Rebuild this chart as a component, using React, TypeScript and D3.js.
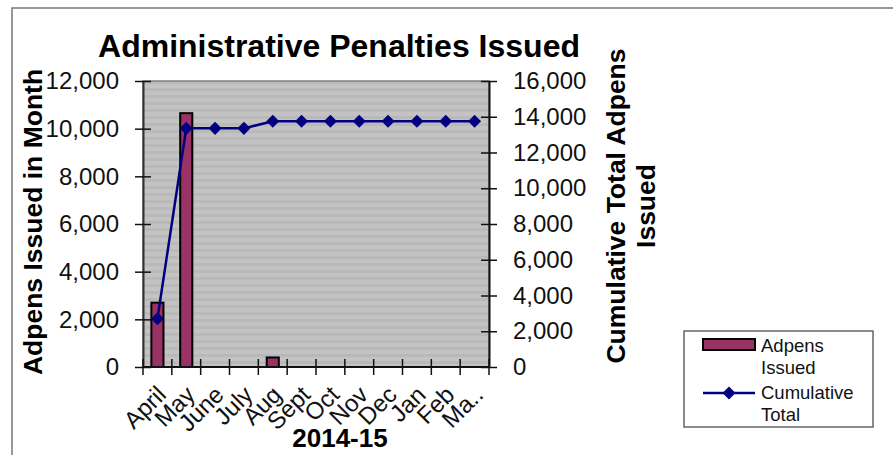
import React, { useEffect, useRef } from 'react';
import * as d3 from 'd3';

const months = ['April', 'May', 'June', 'July', 'Aug', 'Sept', 'Oct', 'Nov', 'Dec', 'Jan', 'Feb', 'Ma..'];
const adpensIssued = [2700, 10650, 0, 0, 400, 0, 0, 0, 0, 0, 0, 0];
const cumulativeTotal = [2700, 13350, 13350, 13350, 13750, 13750, 13750, 13750, 13750, 13750, 13750, 13750];
const leftTicks = [0, 2000, 4000, 6000, 8000, 10000, 12000];
const rightTicks = [0, 2000, 4000, 6000, 8000, 10000, 12000, 14000, 16000];
const legendLabels = [['Adpens', 'Issued'], ['Cumulative', 'Total']];

const width = 893;
const height = 455;
const plot = { left: 143, right: 489, top: 81, bottom: 367 };
const font = '"Liberation Sans", Arial, Helvetica, sans-serif';
const barColor = '#993366';
const lineColor = '#000080';

export default function App() {
  const ref = useRef<SVGSVGElement>(null);

  useEffect(() => {
    document.body.style.margin = '0';
    const svg = d3.select(ref.current);
    svg.selectAll('*').remove();

    const x = d3.scaleBand<string>().domain(months).range([plot.left, plot.right]);
    const yLeft = d3.scaleLinear().domain([0, 12000]).range([plot.bottom, plot.top]);
    const yRight = d3.scaleLinear().domain([0, 16000]).range([plot.bottom, plot.top]);

    // striped grey plot background
    const pat = svg.append('defs').append('pattern')
      .attr('id', 'stripes')
      .attr('patternUnits', 'userSpaceOnUse')
      .attr('width', 8).attr('height', 7);
    pat.append('rect').attr('width', 8).attr('height', 7).attr('fill', '#c3c3c3');
    pat.append('rect').attr('y', 4).attr('width', 8).attr('height', 3).attr('fill', '#b9b9b9');

    svg.append('rect')
      .attr('x', 12).attr('y', 8)
      .attr('width', width + 10).attr('height', height + 10)
      .attr('fill', 'white').attr('stroke', '#777').attr('stroke-width', 1.5);

    svg.append('rect')
      .attr('x', plot.left).attr('y', plot.top)
      .attr('width', plot.right - plot.left).attr('height', plot.bottom - plot.top)
      .attr('fill', 'url(#stripes)').attr('stroke', '#808080').attr('stroke-width', 1.5);

    // bars
    const barW = x.bandwidth() * 0.42;
    svg.append('g').selectAll('rect')
      .data(adpensIssued.map((v, i) => ({ m: months[i], v })).filter(d => d.v > 0))
      .enter().append('rect')
      .attr('x', d => x(d.m)! + (x.bandwidth() - barW) / 2)
      .attr('y', d => yLeft(d.v))
      .attr('width', barW)
      .attr('height', d => plot.bottom - yLeft(d.v))
      .attr('fill', barColor).attr('stroke', 'black').attr('stroke-width', 2);

    // left axis
    const gl = svg.append('g')
      .attr('transform', `translate(${plot.left},0)`)
      .call(d3.axisLeft(yLeft).tickValues(leftTicks).tickFormat(d3.format(',')).tickSize(8).tickSizeOuter(0).tickPadding(16));
    gl.selectAll('.tick line').attr('x1', 8).attr('stroke', '#111').attr('stroke-width', 1.5);
    gl.select('.domain').attr('stroke', '#333').attr('stroke-width', 2);
    gl.selectAll('text').attr('font-size', 24).attr('font-family', font).attr('fill', '#111');

    // right axis
    const gr = svg.append('g')
      .attr('transform', `translate(${plot.right},0)`)
      .call(d3.axisRight(yRight).tickValues(rightTicks).tickFormat(d3.format(',')).tickSize(8).tickSizeOuter(0).tickPadding(16));
    gr.selectAll('.tick line').attr('x1', -8).attr('stroke', '#111').attr('stroke-width', 1.5);
    gr.select('.domain').attr('stroke', '#111').attr('stroke-width', 2);
    gr.selectAll('text').attr('font-size', 24).attr('font-family', font).attr('fill', '#111');

    // bottom axis
    const bounds = months.map(m => x(m)!).concat([plot.right]);
    svg.append('line')
      .attr('x1', plot.left).attr('x2', plot.right)
      .attr('y1', plot.bottom).attr('y2', plot.bottom)
      .attr('stroke', '#111').attr('stroke-width', 2);
    svg.append('g').selectAll('line').data(bounds).enter().append('line')
      .attr('x1', d => d).attr('x2', d => d)
      .attr('y1', plot.bottom - 8).attr('y2', plot.bottom + 8)
      .attr('stroke', '#111').attr('stroke-width', 1.5);
    svg.append('g').selectAll('text').data(months).enter().append('text')
      .attr('transform', d => `translate(${x(d)! + x.bandwidth() / 2 - 2},384) rotate(-45)`)
      .attr('text-anchor', 'end')
      .attr('dy', '0.72em')
      .attr('font-size', 24).attr('font-family', font).attr('fill', '#111')
      .text(d => d);

    // cumulative line
    const line = d3.line<number>()
      .x((_, i) => x(months[i])! + x.bandwidth() / 2)
      .y(d => yRight(d));
    svg.append('path')
      .datum(cumulativeTotal)
      .attr('d', line)
      .attr('fill', 'none').attr('stroke', lineColor).attr('stroke-width', 2.5);
    const diamond = d3.symbol(d3.symbolSquare, 85);
    svg.append('g').selectAll('path').data(cumulativeTotal).enter().append('path')
      .attr('d', diamond)
      .attr('transform', (d, i) => `translate(${x(months[i])! + x.bandwidth() / 2},${yRight(d)}) rotate(45)`)
      .attr('fill', lineColor);

    // titles
    svg.append('text')
      .attr('x', 339).attr('y', 57)
      .attr('text-anchor', 'middle')
      .attr('font-size', 32).attr('font-weight', 'bold').attr('font-family', font)
      .text('Administrative Penalties Issued');
    svg.append('text')
      .attr('transform', 'translate(42,222) rotate(-90)')
      .attr('text-anchor', 'middle')
      .attr('font-size', 26.5).attr('font-weight', 'bold').attr('font-family', font)
      .text('Adpens Issued in Month');
    const rt = svg.append('text')
      .attr('transform', 'translate(625,206) rotate(-90)')
      .attr('text-anchor', 'middle')
      .attr('font-size', 26.5).attr('font-weight', 'bold').attr('font-family', font);
    rt.append('tspan').attr('x', 0).attr('y', 0).text('Cumulative Total Adpens');
    rt.append('tspan').attr('x', 0).attr('y', 30).text('Issued');
    svg.append('text')
      .attr('x', 340).attr('y', 447)
      .attr('text-anchor', 'middle')
      .attr('font-size', 26).attr('font-weight', 'bold').attr('font-family', font)
      .text('2014-15');

    // legend
    const lg = svg.append('g').attr('transform', 'translate(684,331)');
    lg.append('rect')
      .attr('width', 189).attr('height', 96)
      .attr('fill', 'white').attr('stroke', '#666').attr('stroke-width', 1.5);
    lg.append('rect')
      .attr('x', 19).attr('y', 8).attr('width', 52).attr('height', 11)
      .attr('fill', barColor).attr('stroke', 'black').attr('stroke-width', 2);
    lg.append('line')
      .attr('x1', 19).attr('x2', 71).attr('y1', 62).attr('y2', 62)
      .attr('stroke', lineColor).attr('stroke-width', 2.5);
    lg.append('path')
      .attr('d', diamond)
      .attr('transform', 'translate(45,62) rotate(45)')
      .attr('fill', lineColor);
    legendLabels.forEach((lines, i) => {
      lines.forEach((t, j) => {
        lg.append('text')
          .attr('x', 77).attr('y', 21 + i * 47 + j * 22)
          .attr('font-size', 18.5).attr('font-family', font).attr('fill', '#111')
          .text(t);
      });
    });
  }, []);

  return <svg ref={ref} width={width} height={height} style={{ display: 'block' }} />;
}
